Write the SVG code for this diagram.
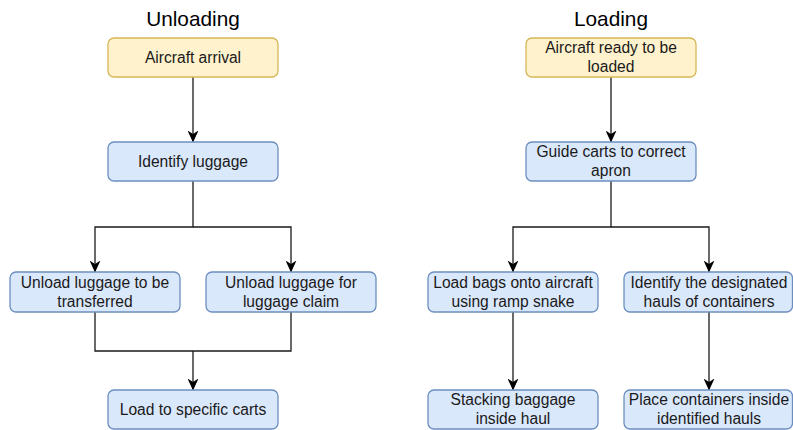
<svg xmlns="http://www.w3.org/2000/svg" width="793" height="430" viewBox="0 0 793 430">
<style>
.y{fill:#fff2cc;stroke:#d6b656;stroke-width:1.3}
.b{fill:#dae8fc;stroke:#6c8ebf;stroke-width:1.3}
.t{font-family:"Liberation Sans",Arial,Helvetica,sans-serif;font-size:15.6px;fill:#1a1a1a;text-anchor:middle}
.h{font-family:"Liberation Sans",Arial,Helvetica,sans-serif;font-size:20.8px;fill:#000;text-anchor:middle}
.c{fill:none;stroke:#1a1a1a;stroke-width:1.3}
</style>
<defs>
<marker id="ar" viewBox="0 0 12 11" refX="11.5" refY="5.5" markerWidth="12" markerHeight="11" markerUnits="userSpaceOnUse" orient="auto">
<path d="M0,0 L12,5.5 L0,11 L3.5,5.5 Z" fill="#000"/>
</marker>
</defs>
<text class="h" x="193" y="25.5">Unloading</text>
<text class="h" x="611" y="25.5">Loading</text>
<g id="connectors">
<path class="c" d="M193,77 V142" marker-end="url(#ar)"/>
<path class="c" d="M193,181 V227 H95 V272" marker-end="url(#ar)"/>
<path class="c" d="M193,227 H291 V272" marker-end="url(#ar)"/>
<path class="c" d="M95,312 V351 H291 V312"/>
<path class="c" d="M193,351 V390" marker-end="url(#ar)"/>
<path class="c" d="M611,77 V142" marker-end="url(#ar)"/>
<path class="c" d="M611,181 V227 H513 V272" marker-end="url(#ar)"/>
<path class="c" d="M611,227 H709 V272" marker-end="url(#ar)"/>
<path class="c" d="M513,312 V390" marker-end="url(#ar)"/>
<path class="c" d="M709,312 V390" marker-end="url(#ar)"/>
</g>
<g id="n1"><rect class="y" x="108" y="38" width="170" height="39" rx="6"/><text class="t" x="193" y="62.5">Aircraft arrival</text></g>
<g id="n2"><rect class="b" x="108" y="142" width="170" height="39" rx="6"/><text class="t" x="193" y="166.5">Identify luggage</text></g>
<g id="n3"><rect class="b" x="10" y="272" width="170" height="40" rx="6"/><text class="t" x="95" y="287.5">Unload luggage to be</text><text class="t" x="95" y="306.5">transferred</text></g>
<g id="n4"><rect class="b" x="206" y="272" width="170" height="40" rx="6"/><text class="t" x="291" y="287.5">Unload luggage for</text><text class="t" x="291" y="306.5">luggage claim</text></g>
<g id="n5"><rect class="b" x="108" y="390" width="170" height="39" rx="6"/><text class="t" x="193" y="414.5">Load to specific carts</text></g>
<g id="n6"><rect class="y" x="526" y="38" width="170" height="39" rx="6"/><text class="t" x="611" y="53">Aircraft ready to be</text><text class="t" x="611" y="72">loaded</text></g>
<g id="n7"><rect class="b" x="526" y="142" width="170" height="39" rx="6"/><text class="t" x="611" y="157">Guide carts to correct</text><text class="t" x="611" y="176">apron</text></g>
<g id="n8"><rect class="b" x="428" y="272" width="170" height="40" rx="6"/><text class="t" x="513" y="287.5">Load bags onto aircraft</text><text class="t" x="513" y="306.5">using ramp snake</text></g>
<g id="n9"><rect class="b" x="624" y="272" width="168.5" height="40" rx="6"/><text class="t" x="709" y="287.5">Identify the designated</text><text class="t" x="709" y="306.5">hauls of containers</text></g>
<g id="n10"><rect class="b" x="428" y="390" width="170" height="39" rx="6"/><text class="t" x="513" y="405">Stacking baggage</text><text class="t" x="513" y="424">inside haul</text></g>
<g id="n11"><rect class="b" x="624" y="390" width="168.5" height="39" rx="6"/><text class="t" x="709" y="405">Place containers inside</text><text class="t" x="709" y="424">identified hauls</text></g>
</svg>
